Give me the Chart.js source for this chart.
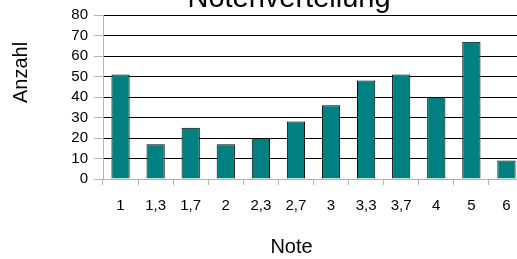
<!DOCTYPE html>
<html>
<head>
<meta charset="utf-8">
<script src="https://cdn.jsdelivr.net/npm/chart.js@4.4.1/dist/chart.umd.min.js"></script>
<style>
  html, body { margin: 0; padding: 0; background: #fff; }
  #wrap { width: 517px; height: 259px; overflow: hidden; position: relative; }
  #wrap canvas { position: absolute; left: 0; top: 0; }
</style>
</head>
<body>
<div id="wrap"><canvas id="chart" width="540" height="259"></canvas></div>
<script>
// Notenverteilung - Anzahl pro Note
const noten = ["1", "1,3", "1,7", "2", "2,3", "2,7", "3", "3,3", "3,7", "4", "5", "6"];
const anzahl = [51, 17, 25, 17, 20, 28, 36, 48, 51, 40, 67, 9];
const yTicks = [0, 10, 20, 30, 40, 50, 60, 70, 80];

const FONT = '"Liberation Sans", Arial, sans-serif';
const GRAU = '#b3b3b3';

// Titel und Achsenbeschriftungen wie im Original (teilweise abgeschnitten)
const textPlugin = {
    id: 'texte',
    afterDraw(chart) {
        const ctx = chart.ctx;
        ctx.save();
        ctx.fillStyle = '#000';
        ctx.textAlign = 'center';
        ctx.textBaseline = 'alphabetic';

        ctx.font = '29px ' + FONT;
        ctx.fillText('Notenverteilung', 289, 7);

        ctx.font = '20px ' + FONT;
        ctx.fillText('Note', 291.5, 253);

        ctx.translate(26.5, 72.5);
        ctx.rotate(-Math.PI / 2);
        ctx.fillText('Anzahl', 0, 0);
        ctx.restore();
    }
};

new Chart(document.getElementById('chart'), {
    type: 'bar',
    data: {
        labels: noten,
        datasets: [{
            label: 'Anzahl',
            data: anzahl,
            backgroundColor: '#008080',
            borderColor: '#000',
            borderWidth: 1,
            barPercentage: 0.52,
            categoryPercentage: 1
        }]
    },
    options: {
        responsive: false,
        animation: false,
        events: [],
        layout: { padding: { top: 15, right: 16, left: 0, bottom: 0 } },
        plugins: {
            legend: { display: false },
            title: { display: false },
            tooltip: { enabled: false }
        },
        scales: {
            x: {
                offset: true,
                grid: {
                    offset: true,
                    drawOnChartArea: false,
                    tickLength: 6,
                    tickColor: GRAU
                },
                border: { color: GRAU },
                ticks: {
                    color: '#000',
                    padding: 12,
                    maxRotation: 0,
                    autoSkip: false,
                    font: { family: FONT, size: 15 }
                },
                afterFit: s => { s.height = 80; }
            },
            y: {
                min: 0,
                max: 80,
                afterBuildTicks: s => { s.ticks = yTicks.map(v => ({ value: v })); },
                grid: {
                    color: c => (c.tick && c.tick.value === 0) ? GRAU : '#000',
                    tickColor: GRAU,
                    tickLength: 9
                },
                border: { color: GRAU },
                ticks: {
                    color: '#000',
                    padding: 6,
                    autoSkip: false,
                    font: { family: FONT, size: 15 }
                },
                afterFit: s => { s.width = 103; }
            }
        }
    },
    plugins: [textPlugin]
});
</script>
</body>
</html>
